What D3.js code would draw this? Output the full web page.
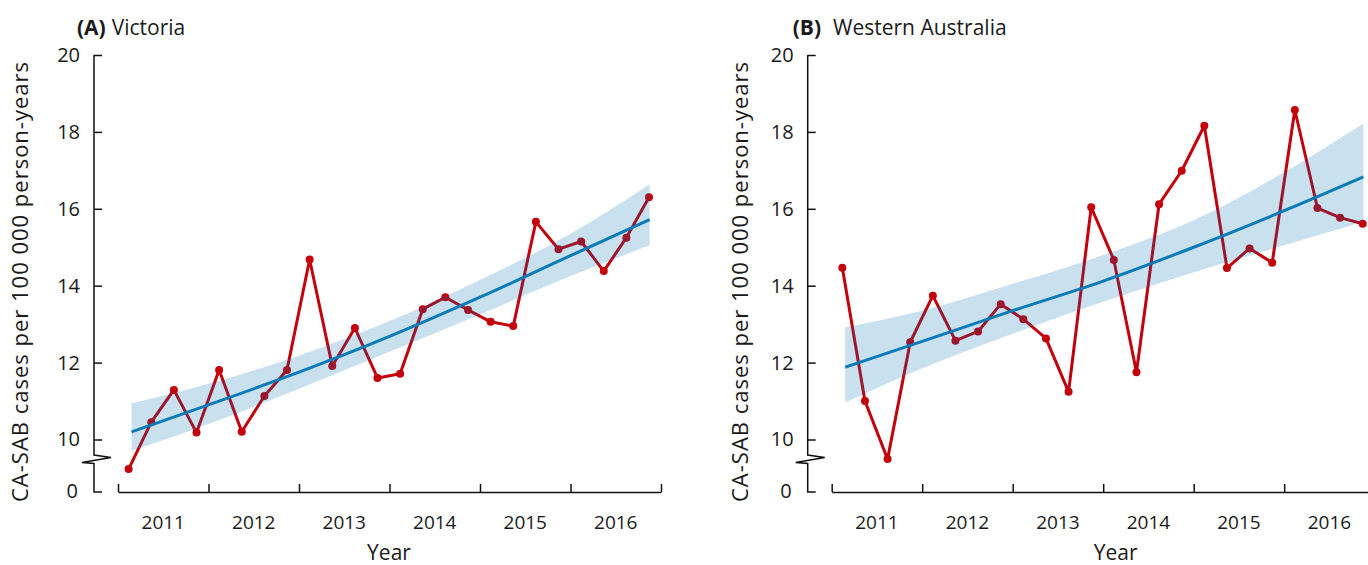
<!DOCTYPE html>
<html>
<head>
<meta charset="utf-8">
<script src="https://cdn.jsdelivr.net/npm/d3@7/dist/d3.min.js"></script>
<style>
  body { margin: 0; background: #fff; }
  text { font-family: "Open Sans", sans-serif; fill: #1a1a1a; }
</style>
</head>
<body>
<script>
// quarters 2011 Q1 .. 2016 Q4
var quarters = ["2011 Q1","2011 Q2","2011 Q3","2011 Q4","2012 Q1","2012 Q2","2012 Q3","2012 Q4",
  "2013 Q1","2013 Q2","2013 Q3","2013 Q4","2014 Q1","2014 Q2","2014 Q3","2014 Q4",
  "2015 Q1","2015 Q2","2015 Q3","2015 Q4","2016 Q1","2016 Q2","2016 Q3","2016 Q4"];
var yearLabels = ["2011","2012","2013","2014","2015","2016"];
var yTicks = [10, 12, 14, 16, 18, 20];
var baseLabel = "0";

// observed rates (per 100 000 person-years)
var victoriaRates = [9.23, 10.45, 11.29, 10.18, 11.81, 10.20, 11.13, 11.81, 14.68, 11.91, 12.90, 11.60,
  11.71, 13.39, 13.70, 13.37, 13.06, 12.95, 15.66, 14.95, 15.15, 14.38, 15.25, 16.30];
var waRates = [14.47, 11.00, 9.49, 12.53, 13.74, 12.57, 12.81, 13.52, 13.13, 12.63, 11.24, 16.04,
  14.67, 11.75, 16.12, 16.99, 18.16, 14.46, 14.97, 14.60, 18.57, 16.02, 15.77, 15.61];

// fitted trend and 95% band, read at these positions (quarter units)
var trendKnots = [0.6, 4, 8, 12, 16, 20, 23.5];
var victoriaTrend = [10.20, 10.90, 11.75, 12.68, 13.70, 14.78, 15.72];
var victoriaLower = [9.70, 10.40, 11.32, 12.28, 13.25, 14.25, 15.05];
var victoriaUpper = [10.94, 11.45, 12.18, 13.08, 14.15, 15.35, 16.64];
var waTrend = [11.88, 12.55, 13.35, 14.12, 15.00, 15.95, 16.83];
var waLower = [10.96, 11.85, 12.75, 13.58, 14.35, 15.05, 15.66];
var waUpper = [12.92, 13.35, 14.05, 14.80, 15.70, 16.95, 18.22];

var svg = d3.select("body").append("svg")
    .attr("width", 1368)
    .attr("height", 565);

// shared scales (panel B is shifted right)
var x = d3.scaleLinear().domain([0, 24]).range([118, 661]);
var y = d3.scaleLinear().domain([10, 20]).range([439.5, 55]);
var yZero = 492;

function drawPanel(p) {
    var g = svg.append("g").attr("transform", "translate(" + p.offset + ",0)");

    // title
    var title = g.append("text").attr("x", p.titleX).attr("y", 35).style("font-size", "21px");
    title.append("tspan").style("font-weight", "bold").text("(" + p.letter + ")");
    title.append("tspan").attr("dx", p.titleGap).text(p.name);

    // y axis
    var yAxis = d3.axisLeft(y).tickValues(yTicks).tickSize(-8).tickPadding(14).tickSizeOuter(0);
    var yG = g.append("g").attr("transform", "translate(94,0)").call(yAxis);
    yG.select(".domain").remove();
    yG.selectAll("line").attr("stroke", "#111").attr("stroke-width", 1.5);
    yG.selectAll("text").style("font-size", "20px").attr("fill", "#1a1a1a")
        .style("font-family", "'Open Sans', sans-serif");

    // axis line with break
    g.append("path")
        .attr("d", "M94," + y(20) + "L94,455L111,457.5L82,462.5L94,463.5L94," + yZero + "L102," + yZero)
        .attr("fill", "none").attr("stroke", "#111").attr("stroke-width", 1.5);
    g.append("text").attr("x", 78).attr("y", yZero).attr("dy", "0.32em")
        .attr("text-anchor", "end").style("font-size", "20px").text(baseLabel);

    g.append("text")
        .attr("transform", "translate(" + p.yLabelX + ",282) rotate(-90)")
        .attr("text-anchor", "middle").style("font-size", "22px")
        .attr("textLength", 440).attr("lengthAdjust", "spacing")
        .text("CA-SAB cases per 100 000 person-years");

    // x axis
    var xAxis = d3.axisBottom(x).tickValues([0, 4, 8, 12, 16, 20, 24])
        .tickSize(-8).tickSizeOuter(0).tickFormat("");
    var xG = g.append("g").attr("transform", "translate(0," + yZero + ")").call(xAxis);
    xG.select(".domain").attr("stroke", "#111").attr("stroke-width", 1.5);
    xG.selectAll("line").attr("stroke", "#111").attr("stroke-width", 1.5);

    g.selectAll(".year").data(yearLabels).enter().append("text")
        .attr("class", "year")
        .attr("x", function(d, i) { return x(2 + 4 * i); })
        .attr("y", 529).attr("text-anchor", "middle").style("font-size", "19px")
        .text(function(d) { return d; });
    g.append("text").attr("x", p.yearX).attr("y", 560).attr("text-anchor", "middle")
        .style("font-size", "21px").text("Year");

    // observed series
    var line = d3.line()
        .x(function(d, i) { return x(i + 0.47); })
        .y(function(d) { return y(d); });
    g.append("path").attr("d", line(p.rates))
        .attr("fill", "none").attr("stroke", "#c4000b").attr("stroke-width", 3)
        .attr("stroke-linejoin", "round");
    g.selectAll(".dot").data(p.rates).enter().append("circle")
        .attr("class", "dot")
        .attr("cx", function(d, i) { return x(i + 0.47); })
        .attr("cy", function(d) { return y(d); })
        .attr("r", 4).attr("fill", "#c4000b");

    // confidence band (over the series, translucent)
    var band = d3.area()
        .x(function(d) { return x(d.k); })
        .y0(function(d) { return y(d.lo); })
        .y1(function(d) { return y(d.hi); })
        .curve(d3.curveMonotoneX);
    var bandData = trendKnots.map(function(k, i) { return { k: k, lo: p.lower[i], hi: p.upper[i] }; });
    g.append("path").attr("d", band(bandData)).attr("fill", "rgba(0,110,175,0.21)");

    var trendLine = d3.line()
        .x(function(d, i) { return x(trendKnots[i]); })
        .y(function(d) { return y(d); })
        .curve(d3.curveMonotoneX);
    g.append("path").attr("d", trendLine(p.trend))
        .attr("fill", "none").attr("stroke", "#0b7bb8").attr("stroke-width", 3);
}

drawPanel({ offset: 0, letter: "A", name: "Victoria", titleX: 77, titleGap: 6,
    yLabelX: 28, yearX: 389, rates: victoriaRates,
    trend: victoriaTrend, lower: victoriaLower, upper: victoriaUpper });
drawPanel({ offset: 713.7, letter: "B", name: "Western Australia", titleX: 79, titleGap: 12,
    yLabelX: 34, yearX: 402, rates: waRates,
    trend: waTrend, lower: waLower, upper: waUpper });
</script>
</body>
</html>
